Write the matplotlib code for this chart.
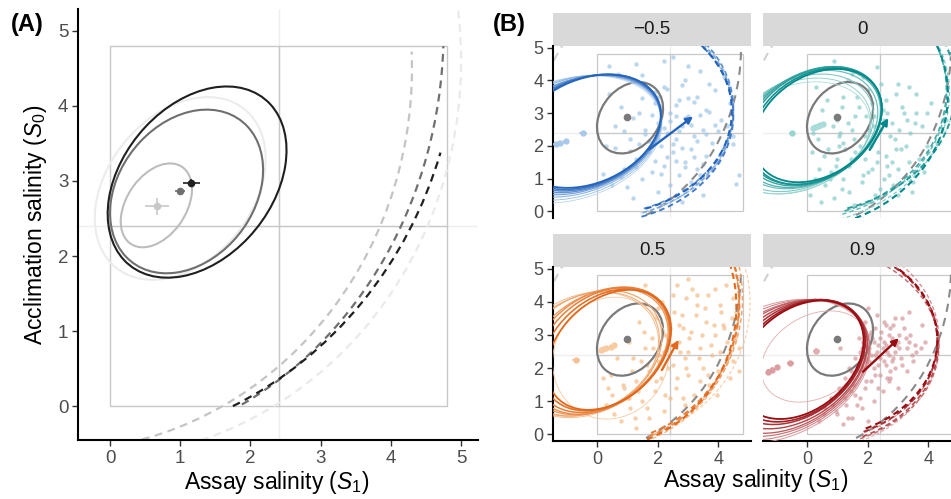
import matplotlib
matplotlib.use('Agg')
import matplotlib.pyplot as plt
from matplotlib.patches import Ellipse, Arc, Rectangle
from matplotlib.colors import LinearSegmentedColormap

plt.rcParams['font.family'] = ['Liberation Sans', 'DejaVu Sans']
plt.rcParams['mathtext.fontset'] = 'custom'
plt.rcParams['mathtext.rm'] = 'Liberation Sans'
plt.rcParams['mathtext.it'] = 'Liberation Sans:italic'

W, H = 951, 499
fig = plt.figure(figsize=(W / 100, H / 100), dpi=100)


def box(l, t, r, b):
    # pixel edges -> figure fraction
    return [l / W, 1 - b / H, (r - l) / W, (b - t) / H]


# ---------------- panel A data ----------------
a_ell_x = [1.0, 0.66, 1.09, 1.24]
a_ell_y = [2.9, 2.675, 2.86, 2.985]
a_ell_w = [2.8, 1.26, 2.45, 2.94]
a_ell_h = [2.0, 0.83, 1.87, 2.08]
a_ell_ang = [45, 52, 45, 45]
a_ell_col = ['#ececec', '#bdbdbd', '#6f6f6f', '#1f1f1f']

a_pt_x = [0.67, 1.00, 1.16]
a_pt_y = [2.66, 2.87, 2.97]
a_pt_xerr = [0.17, 0.07, 0.12]
a_pt_yerr = [0.11, 0.04, 0.05]
a_pt_col = ['#c8c8c8', '#707070', '#1f1f1f']

a_arc_x = [-0.3, -0.8, -0.55, -0.6]
a_arc_y = [4.6, 4.5, 5.0, 5.04]
a_arc_w = [10.6, 10.2, 10.6, 11.12]
a_arc_h = [10.6, 10.2, 11.2, 11.12]
a_arc_t1 = [-95, -80, -64, -65]
a_arc_t2 = [9, 2.5, -2.2, -17.4]
a_arc_col = ['#eaeaea', '#c4c4c4', '#6f6f6f', '#1f1f1f']

# ---------------- panel B data ----------------
rho_labels = ['\u22120.5', '0', '0.5', '0.9']
light_cols = ['#b8d4ef', '#a9dcd8', '#f9caa0', '#e3adaf']
dark_cols = ['#2464bd', '#00898a', '#e2681b', '#990c12']
pt_cols = ['#9fc6e8', '#86cdc8', '#f5bb88', '#d3989b']

pts_x_m05 = [2.5, 1.3, 3.4, 2.9, 1.6, 2.2, 3.9, 0.4, 3.3, 2.7, 1.9, 4.4, 0.8, 3.6, 2.4, 1.4, 3.0, 4.1, 2.0, 0.6,
             2.8, 3.5, 1.6, 2.3, 3.2, 4.5, 1.1, 2.6, 3.8, 2.1, 0.3, 3.1, 1.7, 2.5, 3.6, 1.3, 2.9, 4.0, 2.2, 0.9,
             3.3, 1.8, 2.7, 4.7, 1.5, 3.1, 2.4, 0.5, 2.0, 3.5, 1.2, 2.8, 0.7, 4.2, 3.7, 1.0, 2.0, 4.3, 3.4, 2.6,
             1.9, 2.3, 2.8, 3.2, 1.5, 2.1, 2.6, 3.0, 3.7, 1.2, 1.8, 2.4, 2.9, 3.4, 4.0, 0.9, 1.6, 2.2, 2.7, 3.3,
             3.9, 4.5, 1.4, 2.0, 2.5, 3.1, 3.6, 0.6, 1.1, 1.7, 2.3, 2.8, 3.5, 4.2, 1.3, 1.9, 2.6, 3.2, 0.2, 0.8,
             2.1, 3.8, 4.6, 1.0, 2.9, 1.5, 3.0, 2.2, 4.3, 0.4]
pts_y_m05 = [4.7, 4.5, 4.3, 4.0, 3.9, 3.8, 3.7, 3.6, 3.5, 3.4, 3.3, 3.3, 3.2, 3.1, 3.0, 3.0, 2.9, 2.8, 2.7, 2.6,
             2.6, 2.5, 2.5, 2.4, 2.3, 2.3, 2.2, 2.2, 2.1, 2.0, 2.0, 1.9, 1.8, 1.8, 1.7, 1.6, 1.5, 1.5, 1.4, 1.3,
             1.3, 1.2, 1.1, 1.1, 1.0, 0.9, 0.8, 0.8, 0.6, 0.5, 0.4, 0.3, 4.2, 4.1, 3.9, 2.9, 3.5, 2.6, 1.1, 2.9,
             3.65, 3.75, 3.85, 3.35, 3.45, 3.15, 3.25, 3.45, 3.05, 2.85, 2.95, 2.75, 2.85, 2.95, 2.45, 2.45, 2.35,
             2.55, 2.45, 2.15, 2.65, 2.05, 2.05, 2.25, 2.05, 2.65, 2.35, 1.95, 1.85, 2.15, 1.65, 1.95, 1.45, 1.95,
             1.35, 1.55, 1.55, 1.65, 1.15, 1.05, 1.15, 1.25, 0.85, 0.75, 1.35, 4.15, 4.45, 4.6, 3.95, 4.45]

pts_x_0 = [0.9, 2.3, 1.5, 3.0, 0.3, 2.0, 3.6, 1.2, 2.6, 4.1, 1.7, 0.5, 3.2, 2.2, 1.0, 2.8, 3.8, 1.5, 2.4, 0.2,
           3.4, 1.9, 2.9, 1.2, 4.3, 2.1, 3.1, 0.7, 1.6, 2.6, 3.7, 1.0, 2.3, 1.4, 3.0, 0.4, 2.0, 2.7, 1.2, 3.5,
           1.8, 0.6, 2.4, 1.4, 3.0, 0.9, 2.0, 0.1, 1.6, 2.5, 3.3, 1.1, 2.8, 0.8, 1.9, 4.0, 2.2, 3.6,
           1.35, 1.85, 2.45, 2.95, 3.35, 0.65, 1.15, 1.65, 2.15, 2.65, 3.15, 3.95, 0.85, 1.35, 1.95, 2.55, 3.05,
           3.55, 0.35, 1.05, 1.55, 2.05, 2.75, 3.25, 4.45, 0.55, 1.25, 1.75, 2.35, 2.95, 3.85, 0.25, 0.95, 1.45,
           2.15, 2.65, 3.35, 0.75, 1.15, 1.85, 2.55, 0.45, 1.55, 2.25, 3.95, 4.6, 0.15, 2.85, 1.05, 3.45]
pts_y_0 = [4.6, 4.4, 4.2, 3.9, 3.8, 3.7, 3.6, 3.5, 3.4, 3.3, 3.2, 3.1, 3.0, 2.9, 2.8, 2.7, 2.6, 2.5, 2.5, 2.4,
           2.4, 2.3, 2.2, 2.1, 2.1, 2.0, 1.9, 1.9, 1.8, 1.7, 1.6, 1.6, 1.5, 1.4, 1.3, 1.3, 1.2, 1.1, 1.0, 0.9,
           0.9, 0.8, 0.7, 0.6, 0.5, 0.4, 0.3, 0.5, 2.9, 3.1, 2.8, 2.4, 1.5, 1.2, 1.6, 1.8, 2.6, 3.0,
           4.0, 4.1, 3.9, 3.6, 3.8, 3.4, 3.2, 3.5, 3.3, 3.0, 3.2, 3.0, 2.6, 2.7, 2.9, 2.8, 2.5, 2.7, 2.2, 2.3,
           2.2, 2.5, 2.3, 2.0, 2.5, 1.7, 1.9, 2.0, 1.8, 1.9, 1.2, 1.0, 1.4, 1.6, 1.3, 1.4, 1.5, 1.0, 0.7, 1.1,
           1.0, 0.3, 0.2, 0.5, 2.0, 2.8, 1.8, 0.8, 2.0, 0.6]

pts_x_05 = [3.0, 1.6, 3.9, 2.5, 4.5, 3.3, 2.0, 4.1, 2.8, 3.6, 1.4, 4.6, 2.4, 3.1, 3.9, 1.8, 2.7, 4.3, 3.4, 2.2,
            3.8, 1.2, 2.9, 4.5, 2.5, 3.5, 1.7, 4.0, 3.0, 2.1, 1.3, 3.7, 2.6, 0.9, 1.9, 3.2, 0.5, 2.4, 1.5, 2.9,
            0.3, 1.1, 2.2, 1.7, 0.8, 1.3, 4.7, 3.3, 2.3, 4.2, 3.0, 1.6, 2.0, 3.4, 1.0, 2.7, 0.2, 4.4,
            2.65, 3.15, 3.65, 4.25, 2.15, 2.95, 3.55, 4.05, 4.6, 1.95, 2.55, 3.25, 3.85, 4.45, 1.55, 2.25, 2.85,
            3.45, 4.15, 1.05, 1.85, 2.45, 3.05, 3.75, 4.55, 0.65, 1.45, 2.05, 2.75, 3.35, 4.05, 0.45, 1.15, 1.65,
            2.35, 2.95, 0.85, 1.35, 1.95, 2.65, 0.35, 1.05, 1.65, 2.25, 3.65, 4.7, 2.85, 3.95, 1.25, 0.55]
pts_y_05 = [4.7, 4.5, 4.4, 4.2, 4.1, 3.9, 3.8, 3.7, 3.6, 3.4, 3.4, 3.3, 3.2, 3.1, 3.0, 2.9, 2.8, 2.8, 2.6, 2.5,
            2.4, 2.3, 2.3, 2.2, 2.1, 2.0, 1.9, 1.9, 1.8, 1.7, 1.6, 1.5, 1.4, 1.4, 1.3, 1.2, 1.2, 1.1, 1.0, 0.9,
            0.9, 0.8, 0.7, 0.5, 0.4, 0.2, 2.6, 4.2, 3.5, 3.2, 2.5, 2.6, 2.2, 1.6, 1.1, 3.3, 1.7, 1.7,
            4.5, 4.4, 4.2, 4.5, 4.0, 4.1, 3.8, 3.9, 3.7, 3.5, 3.7, 3.6, 3.3, 3.5, 3.1, 3.0, 3.2, 3.0, 3.3, 2.8,
            2.6, 2.7, 2.9, 2.7, 2.9, 2.3, 2.2, 2.4, 2.5, 2.3, 2.5, 1.8, 1.9, 2.1, 2.0, 2.0, 1.5, 1.3, 1.6, 1.7,
            1.4, 1.1, 0.8, 1.2, 1.8, 1.9, 1.1, 1.2, 0.5, 0.6]

pts_x_09 = [2.3, 2.9, 1.9, 2.6, 3.2, 2.1, 2.7, 3.4, 1.7, 2.4, 3.0, 2.0, 2.6, 3.3, 1.8, 2.3, 2.9, 3.6, 2.1, 2.7,
            1.6, 2.4, 3.1, 1.9, 2.6, 2.2, 2.9, 1.7, 2.4, 3.3, 1.5, 2.1, 2.7, 1.3, 1.9, 2.5, 1.1, 1.6, 0.8, 2.2,
            1.3, 1.8, 0.6, 1.0, 1.5, 0.4, 2.0, 1.2, 3.8, 2.0, 3.5, 2.8, 2.2, 2.5, 2.0, 2.8, 1.4, 3.0, 3.9, 1.1,
            2.25, 2.55, 2.85, 3.15, 2.05, 2.45, 2.75, 3.05, 3.35, 1.85, 2.15, 2.55, 2.95, 3.25, 3.55, 1.75, 2.05,
            2.35, 2.65, 3.05, 3.45, 1.95, 2.25, 2.55, 2.85, 3.15, 1.65, 2.05, 2.35, 2.75, 1.45, 1.85, 2.25, 2.65,
            1.25, 1.55, 1.95, 2.35, 1.05, 1.45, 1.75, 0.85, 1.25, 1.65, 0.55, 0.95, 1.35, 2.75, 3.75, 3.35]
pts_y_09 = [3.6, 3.5, 3.4, 3.3, 3.2, 3.1, 3.0, 3.0, 2.9, 2.9, 2.8, 2.7, 2.7, 2.6, 2.6, 2.5, 2.5, 2.5, 2.4, 2.4,
            2.3, 2.3, 2.3, 2.2, 2.1, 2.0, 2.0, 1.9, 1.8, 1.9, 1.7, 1.6, 1.6, 1.5, 1.4, 1.3, 1.3, 1.2, 1.1, 1.0,
            0.9, 0.8, 0.8, 0.6, 0.5, 0.4, 0.4, 0.3, 3.3, 3.8, 2.2, 2.9, 2.8, 2.6, 2.5, 2.2, 2.0, 1.4, 2.8, 2.6,
            3.2, 3.4, 3.3, 3.5, 3.0, 3.1, 3.2, 3.0, 2.8, 2.8, 2.9, 2.8, 2.7, 2.9, 2.7, 2.5, 2.6, 2.7, 2.5, 2.6,
            2.4, 2.3, 2.4, 2.2, 2.3, 2.1, 2.1, 2.2, 2.1, 1.9, 1.9, 2.0, 1.8, 1.7, 1.7, 1.5, 1.6, 1.4, 1.4, 1.3,
            1.1, 0.9, 1.1, 0.9, 0.6, 0.7, 0.5, 1.7, 2.6, 3.7]

# ellipses: (cx, cy, width, height, angle), light -> dark
ell_m05 = [(-0.9, 2.2, 6.2, 3.7, 14), (-0.8, 2.25, 6.0, 3.6, 15), (-0.7, 2.3, 5.8, 3.5, 16),
           (-0.6, 2.33, 5.6, 3.4, 17), (-0.5, 2.37, 5.4, 3.35, 18), (-0.42, 2.4, 5.2, 3.3, 19),
           (-0.35, 2.43, 5.1, 3.25, 20), (-0.3, 2.45, 5.0, 3.2, 20)]
ell_0 = [(-0.35, 2.25, 5.0, 3.2, 18), (-0.3, 2.3, 5.0, 3.3, 20), (-0.2, 2.4, 5.0, 3.3, 22),
         (0.0, 2.5, 4.9, 3.3, 24), (0.1, 2.55, 4.9, 3.3, 25), (0.2, 2.6, 4.8, 3.3, 26),
         (0.25, 2.62, 4.7, 3.25, 27), (0.3, 2.6, 4.6, 3.2, 28), (0.35, 2.62, 4.5, 3.1, 28)]
ell_05 = [(0.45, 2.3, 3.9, 3.6, 30), (-0.4, 2.4, 5.0, 3.6, 20), (-0.35, 2.42, 5.0, 3.5, 22),
          (-0.25, 2.45, 5.0, 3.5, 24), (0.0, 2.5, 5.0, 3.4, 28), (0.1, 2.52, 4.9, 3.4, 30),
          (0.2, 2.55, 4.8, 3.3, 32), (0.3, 2.55, 4.6, 3.2, 33), (0.4, 2.55, 4.5, 3.1, 35)]
ell_09 = [(0.25, 2.35, 3.7, 2.5, 25), (-1.0, 1.9, 6.4, 4.0, 20), (-0.85, 1.95, 6.1, 3.85, 22),
          (-0.7, 2.0, 5.8, 3.7, 24), (-0.6, 2.05, 5.5, 3.6, 26), (-0.45, 2.12, 5.2, 3.45, 28),
          (-0.35, 2.18, 4.9, 3.3, 30), (-0.25, 2.22, 4.7, 3.2, 32), (-0.2, 2.25, 4.5, 3.1, 33)]

# dashed arcs: (cx, cy, width, height), light -> dark
arc_m05 = [(-0.1, 3.1, 9.2, 6.7), (0.1, 3.0, 8.8, 6.4), (0.0, 3.05, 9.0, 6.56),
           (0.05, 3.15, 8.9, 6.5), (-0.05, 2.95, 9.1, 6.6), (0.15, 3.05, 8.6, 6.3)]
arc_0 = [(-0.5, 3.8, 10.8, 8.0), (-0.6, 3.6, 10.6, 8.1), (-0.5, 3.65, 10.24, 7.9),
         (-0.4, 3.7, 10.0, 7.8), (-0.3, 3.75, 10.4, 7.7), (-0.45, 3.55, 10.2, 8.2)]
arc_05 = [(0.15, 3.95, 9.8, 8.4), (-0.1, 3.9, 9.6, 8.8), (0.05, 4.1, 9.5, 8.9),
          (0.0, 3.97, 9.36, 8.66), (0.1, 4.0, 9.2, 8.5), (-0.05, 3.85, 9.3, 8.6)]
arc_09 = [(-0.1, 2.7, 8.9, 6.4), (0.05, 2.9, 8.6, 6.3), (-0.05, 2.65, 8.8, 6.1),
          (0.0, 2.75, 8.68, 6.22), (0.1, 2.8, 8.4, 6.0), (0.2, 2.85, 8.2, 5.9)]
arc_start = [-64, -66, -67, -57]

# response arrows (start, end)
arr_m05 = [(1.72, 1.89), (3.17, 2.9)]
arr_0 = [(2.07, 1.88), (2.68, 2.85)]
arr_05 = [(2.14, 1.94), (2.69, 2.85)]
arr_09 = [(1.85, 1.89), (3.03, 2.9)]

# group means: x, y, xerr, yerr, shade (0 light .. 1 dark)
mx_m05 = [-1.35, -1.23, -1.01, -0.46]
my_m05 = [2.05, 2.09, 2.14, 2.39]
mxe_m05 = [0.10, 0.15, 0.10, 0.12]
mye_m05 = [0.05, 0.06, 0.04, 0.04]
ms_m05 = [0.1, 0.1, 0.1, 0.1]
mx_0 = [-0.49, 0.20, 0.28, 0.36, 0.44, 0.52]
my_0 = [2.39, 2.56, 2.58, 2.60, 2.63, 2.67]
mxe_0 = [0.10, 0.05, 0.05, 0.05, 0.05, 0.05]
mye_0 = [0.03, 0.03, 0.03, 0.03, 0.03, 0.03]
ms_0 = [0.1, 1, 1, 1, 1, 1]
mx_05 = [-0.69, 0.12, 0.20, 0.30, 0.45, 0.55]
my_05 = [2.24, 2.55, 2.57, 2.60, 2.65, 2.70]
mxe_05 = [0.12, 0.05, 0.05, 0.05, 0.06, 0.06]
mye_05 = [0.05, 0.03, 0.03, 0.03, 0.03, 0.03]
ms_05 = [0.1, 1, 1, 1, 1, 1]
mx_09 = [-1.27, -1.16, -0.99, -0.55, 0.31]
my_09 = [1.89, 1.94, 2.04, 2.16, 2.53]
mxe_09 = [0.08, 0.12, 0.08, 0.12, 0.12]
mye_09 = [0.08, 0.08, 0.06, 0.06, 0.08]
ms_09 = [0.1, 0.1, 0.1, 0.1, 1]

facets = [
    (rho_labels[0], pts_x_m05, pts_y_m05, ell_m05, arc_m05, arr_m05, mx_m05, my_m05, mxe_m05, mye_m05, ms_m05),
    (rho_labels[1], pts_x_0, pts_y_0, ell_0, arc_0, arr_0, mx_0, my_0, mxe_0, mye_0, ms_0),
    (rho_labels[2], pts_x_05, pts_y_05, ell_05, arc_05, arr_05, mx_05, my_05, mxe_05, mye_05, ms_05),
    (rho_labels[3], pts_x_09, pts_y_09, ell_09, arc_09, arr_09, mx_09, my_09, mxe_09, mye_09, ms_09),
]

TICK_C = '#4d4d4d'


def draw_box(ax, lw):
    ax.axhline(2.4, color='#eeeeee', lw=lw, zorder=0)
    ax.axvline(2.4, color='#eeeeee', lw=lw, zorder=0)
    ax.add_patch(Rectangle((0, 0), 4.8, 4.8, fill=False, ec='#c8c8c8', lw=lw, zorder=0.5))
    ax.plot([0, 4.8], [2.4, 2.4], color='#c8c8c8', lw=lw, zorder=0.5)
    ax.plot([2.4, 2.4], [0, 4.8], color='#c8c8c8', lw=lw, zorder=0.5)


# ---------------- panel A ----------------
axA = fig.add_axes(box(78, 9, 478, 440))
axA.set_xlim(-0.456, 5.24)
axA.set_ylim(-0.45, 5.29)
draw_box(axA, 1.0)

for i in range(len(a_arc_x)):
    axA.add_patch(Arc((a_arc_x[i], a_arc_y[i]), a_arc_w[i], a_arc_h[i],
                      theta1=a_arc_t1[i], theta2=a_arc_t2[i], color=a_arc_col[i],
                      lw=1.6, ls=(0, (3.5, 2.5)), zorder=2))
for i in range(len(a_ell_x)):
    axA.add_patch(Ellipse((a_ell_x[i], a_ell_y[i]), a_ell_w[i], a_ell_h[i], angle=a_ell_ang[i],
                          fill=False, ec=a_ell_col[i], lw=1.5, zorder=3))
for i in range(len(a_pt_x)):
    axA.errorbar(a_pt_x[i], a_pt_y[i], xerr=a_pt_xerr[i], yerr=a_pt_yerr[i], fmt='o', ms=4.5,
                 color=a_pt_col[i], elinewidth=1.2, capsize=0, zorder=4)

axA.set_xticks(range(6))
axA.set_yticks(range(6))
axA.tick_params(labelsize=13.5, labelcolor=TICK_C, color='#333333', length=4, width=1, pad=3)
for s in ['top', 'right']:
    axA.spines[s].set_visible(False)
for s in ['left', 'bottom']:
    axA.spines[s].set_linewidth(1.5)

fig.text(11 / W, 1 - 24 / H, '(A)', fontsize=17, fontweight='bold', va='center', ha='left')
fig.text(277 / W, 1 - 483 / H, r'Assay salinity ($S_1$)', fontsize=16.5, ha='center', va='center')
fig.text(36 / W, 1 - 225 / H, r'Acclimation salinity ($S_0$)', fontsize=16.5, ha='center',
         va='center', rotation=90)

# ---------------- panel B ----------------
cols_px = [(553, 751), (763, 961)]
rows_px = [(46, 218), (267, 441)]

for k, (lab, px, py, ells, arcs, arr, mx, my, mxe, mye, msh) in enumerate(facets):
    r, c = divmod(k, 2)
    l, rr = cols_px[c]
    t, b = rows_px[r]
    sax = fig.add_axes(box(l, t - 33, rr, t))
    sax.set_facecolor('#d9d9d9')
    sax.set_xticks([])
    sax.set_yticks([])
    for s in sax.spines.values():
        s.set_visible(False)
    sax.text(0.5, 0.5, lab, ha='center', va='center', fontsize=13.5, color='#1a1a1a',
             transform=sax.transAxes)

    ax = fig.add_axes(box(l, t, rr, b))
    ax.set_xlim(-1.45, 5.08)
    ax.set_ylim(-0.2, 5.05)
    draw_box(ax, 0.9)
    cmap = LinearSegmentedColormap.from_list('f%d' % k, [light_cols[k], dark_cols[k]])

    ax.scatter(px, py, s=10, color=pt_cols[k], alpha=0.7, lw=0, zorder=1)

    # reference (grey) curves
    ax.add_patch(Arc((-0.55, 5.0), 10.6, 11.2, theta1=-67, theta2=-1, color='#8a8a8a',
                     lw=1.5, ls=(0, (4, 3)), zorder=2))
    ax.add_patch(Arc((3.84, 1.72), 12, 12, theta1=140, theta2=158, color='#d0d0d0',
                     lw=1.5, ls=(0, (4, 3)), zorder=2))

    n = len(arcs)
    for i, (cx, cy, w, h) in enumerate(arcs):
        f = i / (n - 1)
        ax.add_patch(Arc((cx, cy), w, h, theta1=arc_start[k], theta2=88, color=cmap(f),
                         lw=0.8 + 0.7 * f, ls=(0, (3, 2)), zorder=2.5))

    ax.add_patch(Ellipse((1.09, 2.86), 2.45, 1.87, angle=45, fill=False, ec='#7a7a7a',
                         lw=1.6, zorder=3))
    ax.plot(1.0, 2.87, 'o', ms=4.5, color='#7a7a7a', zorder=3)

    n = len(ells)
    for i, (cx, cy, w, h, ang) in enumerate(ells):
        f = i / (n - 1)
        ax.add_patch(Ellipse((cx, cy), w, h, angle=ang, fill=False, ec=cmap(f),
                             lw=0.6 + 0.7 * f, zorder=4))

    ax.annotate('', xy=arr[1], xytext=arr[0],
                arrowprops=dict(arrowstyle='-|>', color=dark_cols[k], lw=1.7,
                                mutation_scale=10, shrinkA=0, shrinkB=0), zorder=5)

    for i in range(len(mx)):
        ax.errorbar(mx[i], my[i], xerr=mxe[i], yerr=mye[i], fmt='o', ms=3.5,
                    color=cmap(msh[i]), elinewidth=1.1, capsize=0, zorder=5)

    for s in ['top', 'right']:
        ax.spines[s].set_visible(False)
    ax.spines['left'].set_visible(c == 0)
    ax.spines['bottom'].set_visible(r == 1)
    ax.spines['left'].set_linewidth(1.5)
    ax.spines['bottom'].set_linewidth(1.5)
    if c == 0:
        ax.set_yticks(range(6))
    else:
        ax.set_yticks([])
    if r == 1:
        ax.set_xticks([0, 2, 4])
    else:
        ax.set_xticks([])
    ax.tick_params(labelsize=13, labelcolor=TICK_C, color='#333333', length=4, width=1, pad=3)

fig.text(493 / W, 1 - 24 / H, '(B)', fontsize=17, fontweight='bold', va='center', ha='left')
fig.text(756 / W, 1 - 481 / H, r'Assay salinity ($S_1$)', fontsize=16.5, ha='center', va='center')

fig.savefig('out.png', dpi=100)
